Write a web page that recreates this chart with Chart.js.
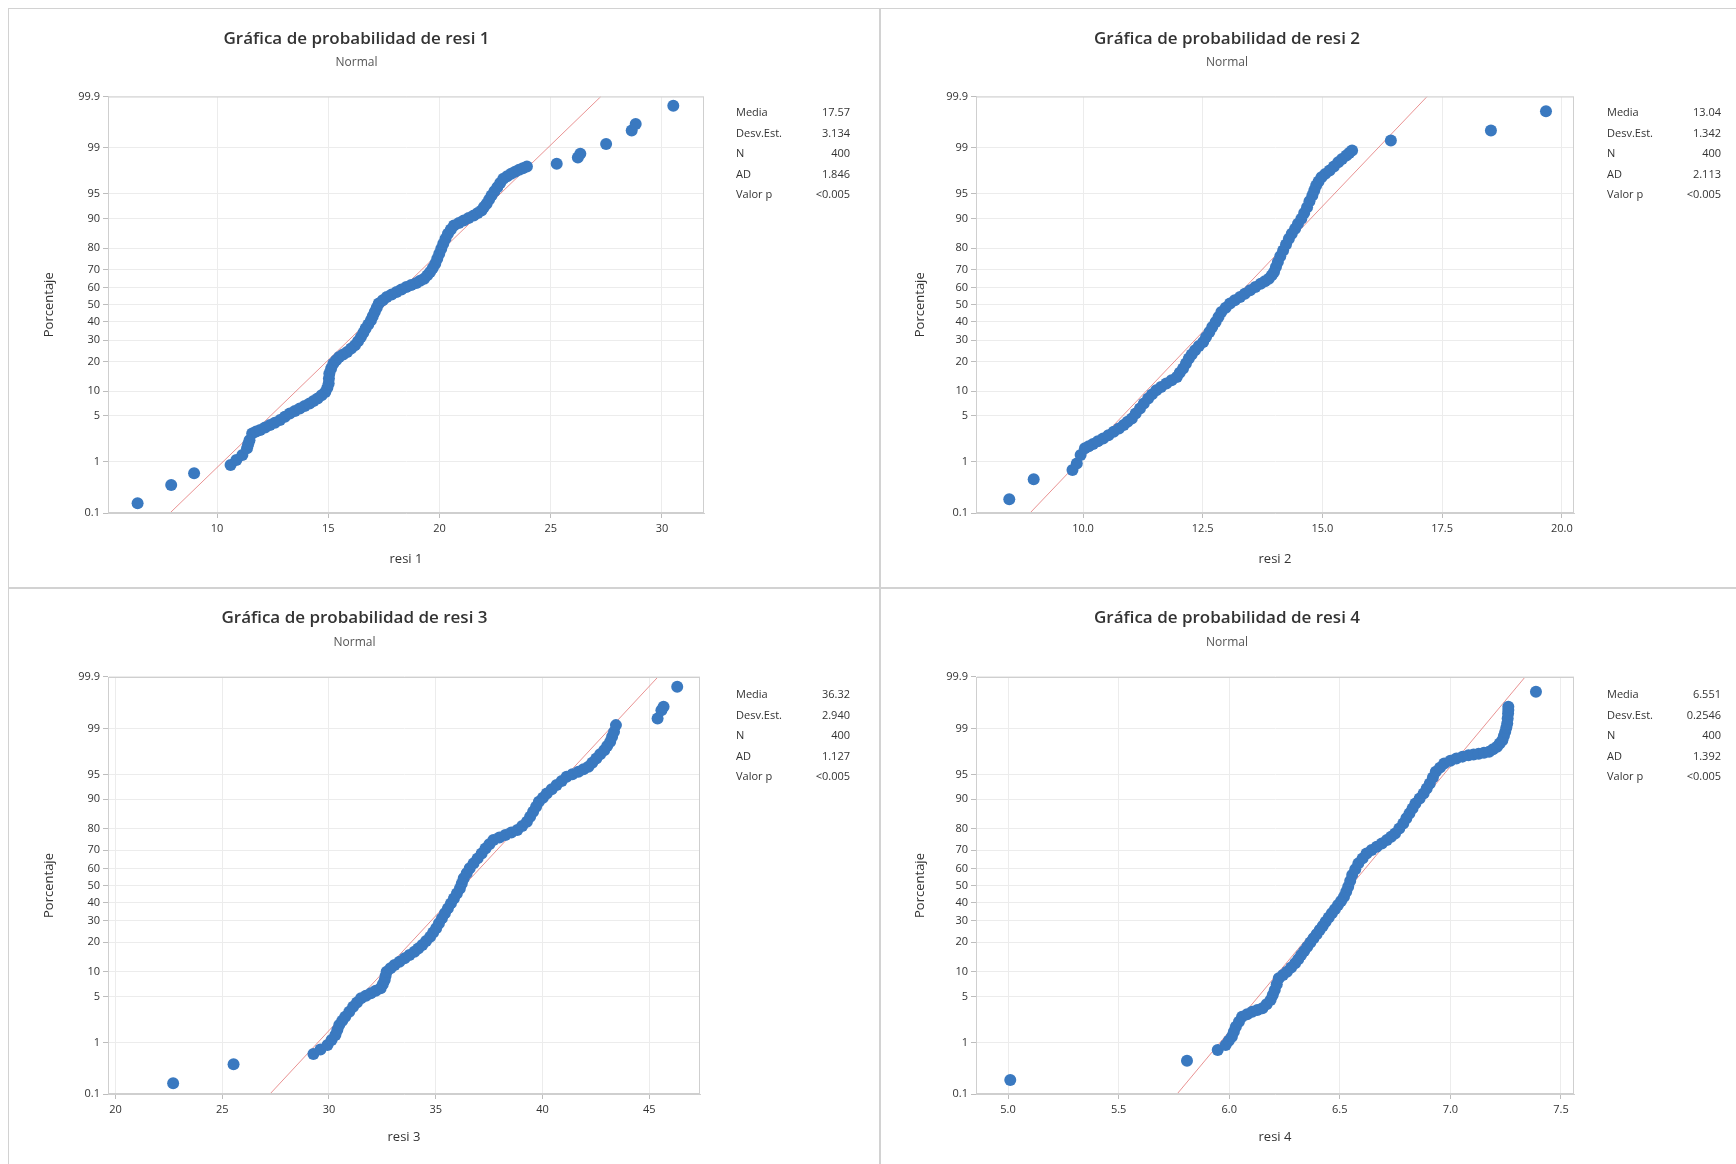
<!DOCTYPE html>
<html>
<head>
<meta charset="utf-8">
<script src="https://cdn.jsdelivr.net/npm/chart.js@4.4.1/dist/chart.umd.min.js"></script>
<style>
  html, body { margin:0; padding:0; background:#fff; }
  body { width:1736px; height:1164px; position:relative; overflow:hidden; font-family:"Open Sans", "Liberation Sans", sans-serif; }
  .panel { position:absolute; }
  .stats { position:absolute; font-size:11px; color:#333; line-height:18.5px; }
  .stats td { padding:0; }
  .stats td.v { text-align:right; }
  .line { position:absolute; background:#d2d2d2; }
</style>
</head>
<body>
<div class="line" style="left:8px;top:8px;width:1728px;height:1px"></div>
<div class="line" style="left:8px;top:8px;width:1px;height:1156px"></div>
<div class="line" style="left:879px;top:8px;width:2px;height:1156px"></div>
<div class="line" style="left:8px;top:587px;width:1728px;height:2px"></div>

<div class="panel" id="p1" style="left:9px;top:9px"><canvas id="c1" width="871" height="579"></canvas><table class="stats" id="s1"></table></div>
<div class="panel" id="p2" style="left:880px;top:9px"><canvas id="c2" width="856" height="579"></canvas><table class="stats" id="s2"></table></div>
<div class="panel" id="p3" style="left:9px;top:588px"><canvas id="c3" width="871" height="575"></canvas><table class="stats" id="s3"></table></div>
<div class="panel" id="p4" style="left:880px;top:588px"><canvas id="c4" width="856" height="575"></canvas><table class="stats" id="s4"></table></div>

<script>
// probability axis: percent ticks, placed at their normal scores
const pctTicks = [0.1, 1, 5, 10, 20, 30, 40, 50, 60, 70, 80, 90, 95, 99, 99.9];
const statNames = ["Media", "Desv.Est.", "N", "AD", "Valor p"];

// resi 1  (sorted values, normal score of each plotted point)
const xTicks1 = ["10", "15", "20", "25", "30"];
const resi1 = [6.43, 7.94, 8.97, 10.61, 10.87, 11.14, 11.35, 11.40, 11.46, 11.58,
  11.76, 11.94, 12.16, 12.38, 12.60, 12.83, 13.05, 13.27, 13.50, 13.72,
  13.94, 14.16, 14.34, 14.52, 14.70, 14.87, 14.96, 15.02, 15.03, 15.05,
  15.13, 15.23, 15.35, 15.49, 15.67, 15.85, 16.03, 16.20, 16.34, 16.47,
  16.58, 16.68, 16.80, 16.92, 17.00, 17.09, 17.18, 17.27, 17.45, 17.63,
  17.85, 18.07, 18.29, 18.51, 18.73, 18.96, 19.13, 19.31, 19.45, 19.58,
  19.70, 19.81, 19.90, 19.99, 20.08, 20.17, 20.27, 20.38, 20.51, 20.65,
  20.87, 21.09, 21.31, 21.54, 21.72, 21.89, 22.00, 22.12, 22.23, 22.34,
  22.47, 22.60, 22.73, 22.87, 23.04, 23.22, 23.40, 23.58, 23.75, 23.93,
  25.27, 26.22, 26.33, 27.49, 28.64, 28.82, 30.51];
const score1 = [-2.946, -2.675, -2.502, -2.379, -2.305, -2.231, -2.131, -2.070, -2.009, -1.909,
  -1.880, -1.860, -1.822, -1.786, -1.750, -1.712, -1.662, -1.613, -1.575, -1.539,
  -1.502, -1.465, -1.428, -1.391, -1.342, -1.293, -1.230, -1.169, -1.095, -1.020,
  -0.946, -0.872, -0.823, -0.774, -0.737, -0.700, -0.650, -0.601, -0.540, -0.478,
  -0.416, -0.354, -0.292, -0.231, -0.170, -0.108, -0.046, 0.017, 0.066, 0.114,
  0.152, 0.189, 0.226, 0.263, 0.293, 0.322, 0.355, 0.387, 0.436, 0.485,
  0.547, 0.609, 0.683, 0.757, 0.832, 0.906, 0.980, 1.054, 1.116, 1.177,
  1.214, 1.251, 1.288, 1.325, 1.362, 1.399, 1.449, 1.498, 1.560, 1.621,
  1.683, 1.744, 1.807, 1.869, 1.906, 1.943, 1.973, 2.002, 2.027, 2.051,
  2.091, 2.184, 2.239, 2.387, 2.584, 2.683, 2.954];
const stats1 = ["17.57", "3.134", "400", "1.846", "<0.005"];

// resi 2
const xTicks2 = ["10.0", "12.5", "15.0", "17.5", "20.0"];
const resi2 = [8.46, 8.97, 9.78, 9.87, 9.95, 10.04, 10.12, 10.21, 10.31, 10.42,
  10.53, 10.64, 10.75, 10.85, 10.93, 11.02, 11.10, 11.19, 11.27, 11.36,
  11.44, 11.53, 11.63, 11.74, 11.85, 11.96, 12.02, 12.09, 12.15, 12.21,
  12.27, 12.34, 12.42, 12.51, 12.57, 12.64, 12.70, 12.77, 12.83, 12.89,
  12.98, 13.07, 13.17, 13.28, 13.38, 13.49, 13.60, 13.71, 13.80, 13.88,
  13.94, 13.99, 14.03, 14.07, 14.12, 14.18, 14.24, 14.30, 14.36, 14.43,
  14.49, 14.56, 14.62, 14.68, 14.73, 14.79, 14.83, 14.87, 14.92, 14.98,
  15.06, 15.15, 15.24, 15.33, 15.41, 15.50, 15.56, 15.62, 16.43, 18.52,
  19.67];
const score2 = [-2.887, -2.591, -2.453, -2.354, -2.231, -2.131, -2.100, -2.068, -2.025, -1.983,
  -1.935, -1.886, -1.836, -1.786, -1.737, -1.687, -1.613, -1.539, -1.465, -1.391,
  -1.330, -1.268, -1.219, -1.169, -1.120, -1.071, -1.008, -0.946, -0.872, -0.798,
  -0.737, -0.675, -0.613, -0.552, -0.478, -0.404, -0.330, -0.256, -0.182, -0.108,
  -0.045, 0.017, 0.066, 0.114, 0.164, 0.214, 0.263, 0.313, 0.350, 0.387,
  0.436, 0.485, 0.559, 0.633, 0.720, 0.806, 0.893, 0.980, 1.054, 1.128,
  1.202, 1.276, 1.362, 1.448, 1.535, 1.621, 1.695, 1.769, 1.830, 1.892,
  1.942, 1.991, 2.052, 2.114, 2.164, 2.214, 2.251, 2.288, 2.436, 2.584,
  2.870];
const stats2 = ["13.04", "1.342", "400", "2.113", "<0.005"];

// resi 3
const xTicks3 = ["20", "25", "30", "35", "40", "45"];
const resi3 = [22.70, 25.53, 29.27, 29.60, 29.93, 30.12, 30.30, 30.39, 30.48, 30.62,
  30.76, 30.95, 31.13, 31.31, 31.50, 31.73, 31.96, 32.19, 32.42, 32.52,
  32.61, 32.65, 32.70, 32.88, 33.07, 33.30, 33.54, 33.77, 34.00, 34.18,
  34.37, 34.55, 34.74, 34.88, 35.02, 35.15, 35.29, 35.43, 35.57, 35.71,
  35.85, 35.99, 36.13, 36.22, 36.31, 36.45, 36.59, 36.77, 36.96, 37.15,
  37.33, 37.51, 37.70, 37.98, 38.26, 38.54, 38.82, 39.05, 39.27, 39.42,
  39.56, 39.70, 39.83, 40.02, 40.20, 40.43, 40.66, 40.90, 41.13, 41.40,
  41.68, 41.92, 42.15, 42.33, 42.52, 42.70, 42.89, 43.03, 43.17, 43.26,
  43.35, 43.44, 45.39, 45.57, 45.67, 46.31];
const score3 = [-2.931, -2.650, -2.497, -2.430, -2.364, -2.290, -2.216, -2.142, -2.068, -2.006,
  -1.945, -1.871, -1.797, -1.735, -1.672, -1.635, -1.598, -1.561, -1.524, -1.462,
  -1.401, -1.340, -1.278, -1.228, -1.179, -1.130, -1.080, -1.031, -0.982, -0.932,
  -0.883, -0.821, -0.760, -0.698, -0.635, -0.561, -0.487, -0.413, -0.339, -0.265,
  -0.191, -0.117, -0.043, 0.031, 0.106, 0.180, 0.254, 0.328, 0.402, 0.476,
  0.550, 0.612, 0.673, 0.710, 0.747, 0.784, 0.821, 0.882, 0.944, 1.018,
  1.092, 1.166, 1.240, 1.302, 1.365, 1.426, 1.488, 1.550, 1.611, 1.648,
  1.685, 1.722, 1.759, 1.821, 1.883, 1.945, 2.006, 2.068, 2.129, 2.203,
  2.277, 2.377, 2.476, 2.599, 2.648, 2.944];
const stats3 = ["36.32", "2.940", "400", "1.127", "<0.005"];

// resi 4
const xTicks4 = ["5.0", "5.5", "6.0", "6.5", "7.0", "7.5"];
const resi4 = [5.010, 5.809, 5.948, 5.984, 5.998, 6.012, 6.021, 6.030, 6.044, 6.058,
  6.081, 6.104, 6.127, 6.150, 6.169, 6.187, 6.197, 6.206, 6.215, 6.224,
  6.243, 6.261, 6.280, 6.298, 6.312, 6.325, 6.339, 6.353, 6.367, 6.381,
  6.395, 6.409, 6.423, 6.436, 6.450, 6.464, 6.478, 6.492, 6.506, 6.519,
  6.529, 6.538, 6.547, 6.556, 6.570, 6.584, 6.603, 6.621, 6.644, 6.667,
  6.690, 6.713, 6.732, 6.750, 6.769, 6.787, 6.801, 6.815, 6.829, 6.842,
  6.861, 6.879, 6.893, 6.907, 6.921, 6.934, 6.953, 6.972, 7.000, 7.027,
  7.055, 7.082, 7.105, 7.128, 7.152, 7.175, 7.193, 7.211, 7.223, 7.235,
  7.242, 7.248, 7.253, 7.257, 7.259, 7.261, 7.262, 7.262, 7.387];
const score4 = [-2.883, -2.597, -2.438, -2.364, -2.302, -2.241, -2.167, -2.093, -2.019, -1.945,
  -1.908, -1.871, -1.846, -1.820, -1.759, -1.697, -1.623, -1.549, -1.462, -1.376,
  -1.327, -1.278, -1.216, -1.154, -1.093, -1.031, -0.970, -0.908, -0.846, -0.783,
  -0.722, -0.660, -0.599, -0.537, -0.475, -0.413, -0.352, -0.290, -0.229, -0.167,
  -0.093, -0.019, 0.068, 0.154, 0.241, 0.328, 0.402, 0.476, 0.525, 0.574,
  0.624, 0.673, 0.723, 0.772, 0.846, 0.920, 0.995, 1.069, 1.143, 1.217,
  1.291, 1.365, 1.439, 1.513, 1.599, 1.685, 1.747, 1.809, 1.850, 1.883,
  1.910, 1.932, 1.943, 1.954, 1.968, 1.981, 2.018, 2.055, 2.105, 2.154,
  2.216, 2.277, 2.340, 2.402, 2.476, 2.550, 2.600, 2.648, 2.870];
const stats4 = ["6.551", "0.2546", "400", "1.392", "<0.005"];

// inverse normal cdf (Acklam)
function probit(p){
  const a=[-3.969683028665376e+01,2.209460984245205e+02,-2.759285104469687e+02,1.383577518672690e+02,-3.066479806614716e+01,2.506628277459239e+00];
  const b=[-5.447609879822406e+01,1.615858368580409e+02,-1.556989798598866e+02,6.680131188771972e+01,-1.328068155288572e+01];
  const c=[-7.784894002430293e-03,-3.223964580411365e-01,-2.400758277161838e+00,-2.549732539343734e+00,4.374664141464968e+00,2.938163982698783e+00];
  const d=[7.784695709041462e-03,3.224671290700398e-01,2.445134137142996e+00,3.754408661907416e+00];
  const pl=0.02425;
  let q, r;
  if(p<pl){
    q=Math.sqrt(-2*Math.log(p));
    return (((((c[0]*q+c[1])*q+c[2])*q+c[3])*q+c[4])*q+c[5])/((((d[0]*q+d[1])*q+d[2])*q+d[3])*q+1);
  }
  if(p>1-pl){
    q=Math.sqrt(-2*Math.log(1-p));
    return -(((((c[0]*q+c[1])*q+c[2])*q+c[3])*q+c[4])*q+c[5])/((((d[0]*q+d[1])*q+d[2])*q+d[3])*q+1);
  }
  q=p-0.5; r=q*q;
  return (((((a[0]*r+a[1])*r+a[2])*r+a[3])*r+a[4])*r+a[5])*q/(((((b[0]*r+b[1])*r+b[2])*r+b[3])*r+b[4])*r+1);
}

const panels = [
  {n:1, name:"resi 1", x:resi1, y:score1, ticks:xTicks1, stats:stats1, min:5.10, max:31.89, left:99, right:176, bottom:75, xtPad:21, top:{t:19.5, s:6.4, b:26.8}, statPos:[725, 92]},
  {n:2, name:"resi 2", x:resi2, y:score2, ticks:xTicks2, stats:stats2, min:7.765, max:20.255, left:96, right:162, bottom:75, xtPad:21, top:{t:19.5, s:6.4, b:26.8}, statPos:[725, 92]},
  {n:3, name:"resi 3", x:resi3, y:score3, ticks:xTicks3, stats:stats3, min:19.649, max:47.377, left:99, right:180, bottom:69, xtPad:18, top:{t:19.5, s:7.4, b:27.3}, statPos:[725, 95]},
  {n:4, name:"resi 4", x:resi4, y:score4, ticks:xTicks4, stats:stats4, min:4.855, max:7.559, left:96, right:162, bottom:69, xtPad:18, top:{t:19.5, s:7.4, b:27.3}, statPos:[725, 95]}
];

const zLo = probit(0.001), zHi = probit(0.999);
const txt = "#333";
const font = "'Open Sans', 'Liberation Sans', sans-serif";

function drawPanel(p){
  const pts = p.x.map((v,i)=>({x:v, y:p.y[i]}));
  const mean = parseFloat(p.stats[0]), sd = parseFloat(p.stats[1]);
  const fit = [{x:mean+sd*zLo, y:zLo}, {x:mean+sd*zHi, y:zHi}];

  new Chart(document.getElementById("c"+p.n), {
    type:"scatter",
    data:{
      datasets:[
        {data:pts, backgroundColor:"#3a79c0", borderColor:"#3a79c0", borderWidth:0, pointRadius:6, order:0},
        {type:"line", data:fit, borderColor:"rgba(225,110,110,0.75)", borderWidth:1, pointRadius:0, order:1}
      ]
    },
    options:{
      responsive:false,
      animation:false,
      devicePixelRatio:1,
      layout:{padding:{left:0, right:p.right, top:0, bottom:0}},
      plugins:{
        legend:{display:false},
        tooltip:{enabled:false},
        title:{display:true, text:"Gráfica de probabilidad de "+p.name, color:txt,
          font:{family:font, size:17, weight:"600"}, padding:{top:p.top.t, bottom:0}},
        subtitle:{display:true, text:"Normal", color:"#555",
          font:{family:font, size:12}, padding:{top:p.top.s, bottom:p.top.b}}
      },
      scales:{
        x:{
          type:"linear", min:p.min, max:p.max,
          afterBuildTicks:s=>{ s.ticks = p.ticks.map(t=>({value:parseFloat(t)})); },
          afterFit:s=>{ s.height = p.bottom; },
          ticks:{callback:(v,i)=>p.ticks[i], color:txt, font:{family:font, size:11}, padding:4, autoSkip:false, maxRotation:0},
          grid:{color:"#ececec", tickColor:"#bdbdbd", tickLength:5},
          border:{color:"#cfcfcf"},
          title:{display:true, text:p.name, color:txt, font:{family:font, size:13}, padding:{top:0, bottom:p.xtPad}}
        },
        y:{
          type:"linear", min:zLo, max:zHi,
          afterBuildTicks:s=>{ s.ticks = pctTicks.map(t=>({value:probit(t/100)})); },
          afterFit:s=>{ s.width = p.left; },
          ticks:{callback:(v,i)=>String(pctTicks[i]), color:txt, font:{family:font, size:11}, padding:3, autoSkip:false},
          grid:{color:"#ececec", tickColor:"#bdbdbd", tickLength:5},
          border:{color:"#cfcfcf"},
          title:{display:true, text:"Porcentaje", color:txt, font:{family:font, size:13}, padding:{top:32, bottom:0}}
        }
      }
    },
    plugins:[{
      id:"frame",
      afterDraw(chart){
        const {ctx, chartArea:a} = chart;
        ctx.save();
        ctx.strokeStyle = "#cfcfcf";
        ctx.lineWidth = 1;
        ctx.strokeRect(a.left+0.5, a.top+0.5, a.right-a.left-1, a.bottom-a.top-1);
        ctx.restore();
      }
    }]
  });

  const tb = document.getElementById("s"+p.n);
  tb.style.left = p.statPos[0]+"px";
  tb.style.top = p.statPos[1]+"px";
  tb.style.width = "118px";
  tb.innerHTML = statNames.map((s,i)=>`<tr><td>${s}</td><td class="v">${p.stats[i]}</td></tr>`).join("");
}

panels.forEach(drawPanel);
</script>
</body>
</html>
